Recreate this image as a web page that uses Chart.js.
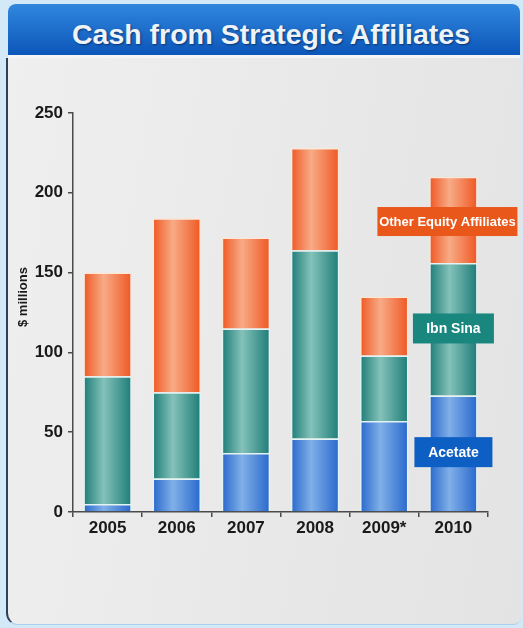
<!DOCTYPE html>
<html>
<head>
<meta charset="utf-8">
<script src="https://cdn.jsdelivr.net/npm/chart.js@4/dist/chart.umd.min.js"></script>
<style>
  body {
    margin: 0;
    width: 523px;
    height: 628px;
    position: relative;
    overflow: hidden;
    background: #d4e9f8;
    font-family: "Liberation Sans", Arial, sans-serif;
  }
  .band {
    position: absolute;
    left: 8px;
    top: 4px;
    width: 512px;
    height: 51px;
    border-radius: 8px 8px 0 0;
    background: linear-gradient(#3087dd, #0c56ba);
  }
  .band h1 {
    margin: 0;
    position: relative;
    top: 5px;
    line-height: 51px;
    text-align: center;
    color: #eef3f8;
    font-size: 28.5px;
    font-weight: bold;
    text-shadow: 1px 1px 2px rgba(0, 20, 60, 0.6);
    padding-left: 14px;
  }
  .strip {
    position: absolute;
    left: 8px;
    top: 55px;
    width: 512px;
    height: 3px;
    background: #f3f5f7;
  }
  .panel {
    position: absolute;
    left: 6px;
    top: 58px;
    width: 513px;
    height: 566px;
    border-left: 2px solid #2f4058;
    border-bottom: 1px solid #a9d0ec;
    border-radius: 0 0 8px 12px;
    background: linear-gradient(100deg, #efefef 0%, #e9e9e9 50%, #e3e3e3 100%);
  }
  canvas {
    position: absolute;
    left: 0;
    top: 0;
  }
</style>
</head>
<body>
<div class="band"><h1>Cash from Strategic Affiliates</h1></div>
<div class="strip"></div>
<div class="panel"></div>
<canvas id="cashChart" width="523" height="628"></canvas>

<script>
// values ($ millions)
const years = ["2005", "2006", "2007", "2008", "2009*", "2010"];
const acetate = [5, 21, 37, 46, 57, 73];
const ibnSina = [80, 54, 78, 118, 41, 83];
const otherEquity = [65, 109, 57, 64, 37, 54];
const yTicks = [0, 50, 100, 150, 200, 250];
const seriesNames = ["Acetate", "Ibn Sina", "Other Equity Affiliates"];

const BAR_PCT = 0.7;
const FONT = '"Liberation Sans", Arial, sans-serif';

// horizontal shading of each bar: dark edges, light middle
function barFill(edge, light) {
  return function (ctx) {
    const chart = ctx.chart;
    const xs = chart.scales.x;
    if (!xs || ctx.dataIndex === undefined || !xs.width) return edge;
    const cx = xs.getPixelForValue(ctx.dataIndex);
    const half = (xs.width / years.length) * BAR_PCT / 2;
    const g = chart.ctx.createLinearGradient(cx - half, 0, cx + half, 0);
    g.addColorStop(0, edge);
    g.addColorStop(0.42, light);
    g.addColorStop(1, edge);
    return g;
  };
}

// boxes with the series names, hung next to the 2010 bar
const tagStyle = [
  { at: 37.5, dx: 0, w: 78, h: 30, size: 14, color: "#0d5fc4" },
  { at: 115, dx: 0, w: 81, h: 30, size: 14, color: "#1a877e" },
  { at: 182, dx: -6, w: 140, h: 29, size: 13, color: "#e9581a" },
];

const tagsPlugin = {
  id: "tags",
  afterDatasetsDraw(chart) {
    const c = chart.ctx;
    const cx = chart.scales.x.getPixelForValue(years.length - 1);
    c.save();
    seriesNames.forEach((name, i) => {
      const t = tagStyle[i];
      const y = chart.scales.y.getPixelForValue(t.at);
      const x = cx + t.dx;
      c.fillStyle = t.color;
      c.fillRect(x - t.w / 2, y - t.h / 2, t.w, t.h);
      c.fillStyle = "#ffffff";
      c.font = "bold " + t.size + "px " + FONT;
      c.textAlign = "center";
      c.textBaseline = "middle";
      c.fillText(name, x, y + 1);
    });
    // y axis title
    c.translate(23, 297);
    c.rotate(-Math.PI / 2);
    c.fillStyle = "#1a1a1a";
    c.font = "bold 13px " + FONT;
    c.textAlign = "center";
    c.textBaseline = "middle";
    c.fillText("$ millions", 0, 0);
    c.restore();
  },
};

const outline = "rgba(226, 246, 244, 0.95)";

new Chart(document.getElementById("cashChart"), {
  type: "bar",
  data: {
    labels: years,
    datasets: [
      {
        label: seriesNames[0],
        data: acetate,
        backgroundColor: barFill("#2867cc", "#80b0e8"),
        borderColor: outline,
        borderWidth: 1.5,
      },
      {
        label: seriesNames[1],
        data: ibnSina,
        backgroundColor: barFill("#1d7c77", "#84c2ba"),
        borderColor: outline,
        borderWidth: 1.5,
      },
      {
        label: seriesNames[2],
        data: otherEquity,
        backgroundColor: barFill("#ef5723", "#f8ab86"),
        borderColor: "rgba(252, 232, 214, 0.95)",
        borderWidth: 1.5,
      },
    ],
  },
  options: {
    responsive: false,
    animation: false,
    devicePixelRatio: 1,
    barPercentage: BAR_PCT,
    categoryPercentage: 1,
    layout: { padding: { left: 0, right: 35, top: 113, bottom: 0 } },
    plugins: {
      legend: { display: false },
      tooltip: { enabled: false },
    },
    scales: {
      x: {
        stacked: true,
        grid: { drawOnChartArea: false, tickLength: 5, color: "#4a4a4a", lineWidth: 1.5 },
        border: { color: "#4a4a4a", width: 1.5 },
        ticks: { color: "#1a1a1a", font: { family: FONT, size: 17, weight: "bold" }, padding: 1 },
        afterFit: (s) => { s.height = 116; },
      },
      y: {
        stacked: true,
        min: yTicks[0],
        max: yTicks[yTicks.length - 1],
        afterBuildTicks: (s) => { s.ticks = yTicks.map((v) => ({ value: v })); },
        grid: { drawOnChartArea: false, tickLength: 5, color: "#4a4a4a", lineWidth: 1.5 },
        border: { color: "#4a4a4a", width: 1.5 },
        ticks: { color: "#1a1a1a", font: { family: FONT, size: 17, weight: "bold" }, padding: 5 },
        afterFit: (s) => { s.width = 73; },
      },
    },
  },
  plugins: [tagsPlugin],
});
</script>
</body>
</html>
